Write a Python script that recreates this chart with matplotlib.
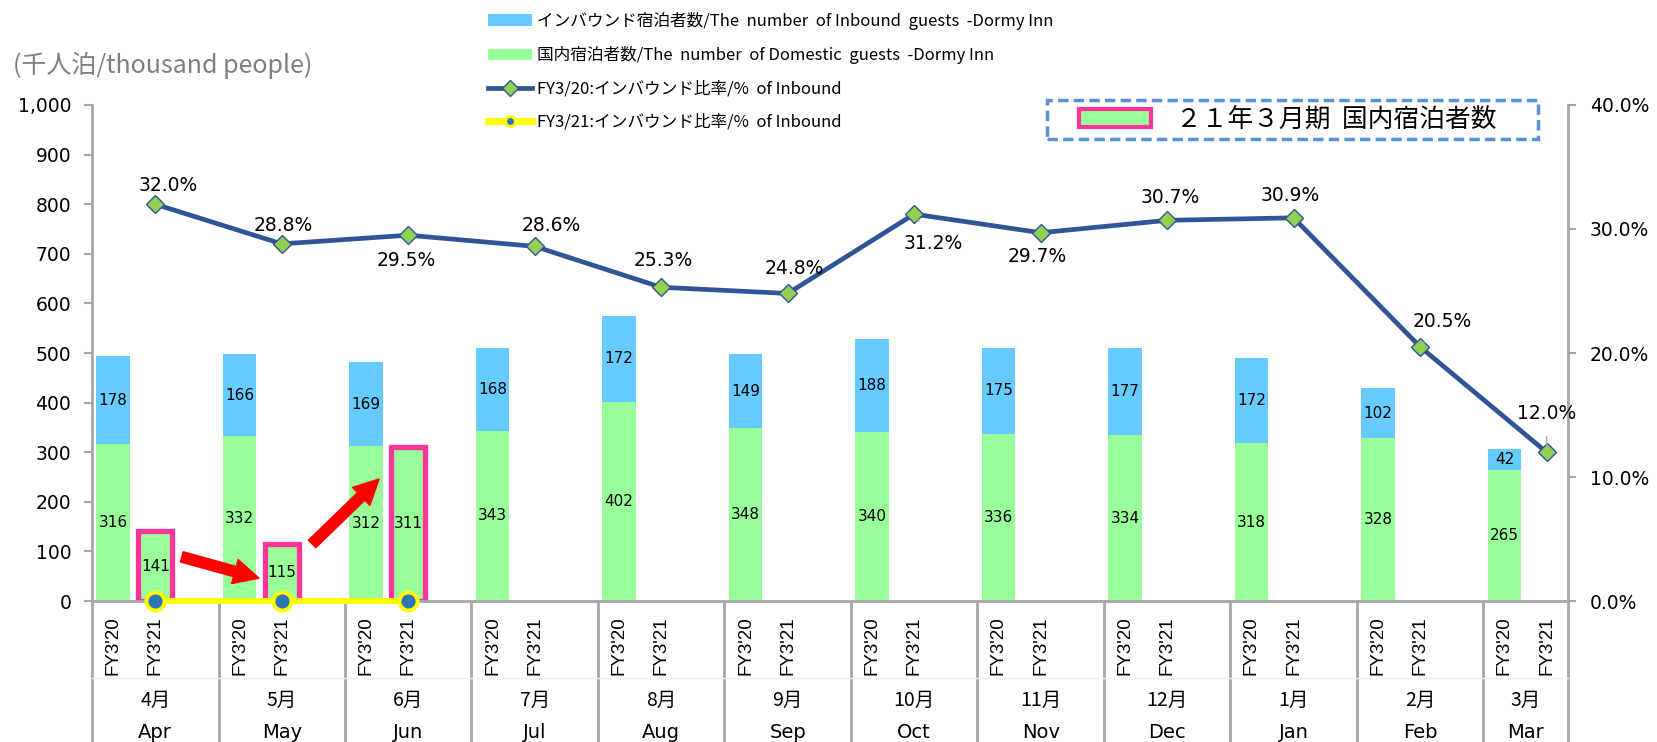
import matplotlib
matplotlib.use('Agg')
import matplotlib.pyplot as plt
import matplotlib.transforms as mtransforms
from matplotlib.patches import Patch, Rectangle
from matplotlib.lines import Line2D

JP = ['Noto Sans CJK JP', 'DejaVu Sans']

months_jp = ['4月', '5月', '6月', '7月', '8月', '9月',
             '10月', '11月', '12月', '1月', '2月', '3月']
months_en = ['Apr', 'May', 'Jun', 'Jul', 'Aug', 'Sep',
             'Oct', 'Nov', 'Dec', 'Jan', 'Feb', 'Mar']
fy_labels = ["FY3'20", "FY3'21"]

dom_fy20 = [316, 332, 312, 343, 402, 348, 340, 336, 334, 318, 328, 265]
inb_fy20 = [178, 166, 169, 168, 172, 149, 188, 175, 177, 172, 102, 42]
dom_fy21 = [141, 115, 311]
ratio_fy20 = [32.0, 28.8, 29.5, 28.6, 25.3, 24.8, 31.2, 29.7, 30.7, 30.9, 20.5, 12.0]
ratio_fy21 = [0.0, 0.0, 0.0]

legend_labels = ['インバウンド宿泊者数/The  number  of Inbound  guests  -Dormy Inn',
                 '国内宿泊者数/The  number  of Domestic  guests  -Dormy Inn',
                 'FY3/20:インバウンド比率/%  of Inbound',
                 'FY3/21:インバウンド比率/%  of Inbound']
box_label = '２１年３月期  国内宿泊者数'
unit_label = '(千人泊/thousand people)'

# label offsets in pixels (dx, dy) for the ratio labels
lbl_off = [(13, 19), (2, 18), (-2, -25), (17, 21), (2, 27), (7, 25),
           (19, -29), (-3, -24), (3, 23), (-3, 22), (22, 25), (0, 39)]
leader = [False] * 6 + [True] + [False] * 3 + [True, True]

C_BLUE = '#66CCFF'
C_GREEN = '#99FF99'
C_LINE = '#2F5597'
C_DIAM = '#92D050'
C_PINK = '#FF3399'
C_GRAY = '#A6A6A6'

n = len(months_en)
x20 = [3 * i for i in range(n)]
x21 = [3 * i + 1 for i in range(n)]

fig = plt.figure(figsize=(16.58, 7.42), dpi=100)
ax = fig.add_axes([0.0555, 0.190, 0.890, 0.6685])
ax2 = ax.twinx()

w = 0.8
ax.bar(x20, dom_fy20, width=w, color=C_GREEN, zorder=2)
ax.bar(x20, inb_fy20, width=w, bottom=dom_fy20, color=C_BLUE, zorder=2)
ax.bar(x21[:len(dom_fy21)], dom_fy21, width=w, color=C_GREEN,
       edgecolor=C_PINK, linewidth=3.8, zorder=2)

for i in range(n):
    ax.text(x20[i], dom_fy20[i] / 2, str(dom_fy20[i]), ha='center', va='center',
            fontsize=11, zorder=3)
    ax.text(x20[i], dom_fy20[i] + inb_fy20[i] / 2, str(inb_fy20[i]), ha='center',
            va='center', fontsize=11, zorder=3)
for i, v in enumerate(dom_fy21):
    ax.text(x21[i], v / 2, str(v), ha='center', va='center',
            fontsize=11, zorder=3)

ax.set_xlim(-0.5, 3 * n - 1.5)
ax.set_ylim(0, 1000)
ax.set_yticks(range(0, 1001, 100))
ax.set_yticklabels([f'{v:,}' for v in range(0, 1001, 100)], fontsize=13.5)

ticks = []
tlabels = []
for i in range(n):
    ticks += [x20[i], x21[i]]
    tlabels += fy_labels
ax.set_xticks(ticks)
ax.set_xticklabels(tlabels, rotation=90, fontsize=13.5, family='Liberation Sans')
ax.tick_params(axis='x', length=0, pad=11)
ax.tick_params(axis='y', direction='out', length=6, color=C_GRAY, width=1.5,
               pad=9)

ax.spines['top'].set_visible(False)
ax2.spines['top'].set_visible(False)
ax.spines['right'].set_visible(False)
ax.spines['left'].set_color(C_GRAY)
ax.spines['bottom'].set_color(C_GRAY)
ax.spines['left'].set_linewidth(2)
ax.spines['bottom'].set_linewidth(2)
ax2.spines['left'].set_visible(False)
ax2.spines['bottom'].set_visible(False)
ax2.spines['right'].set_color(C_GRAY)
ax2.spines['right'].set_linewidth(2)

# category dividers and month labels below the axis
trans = mtransforms.blended_transform_factory(ax.transData, ax.transAxes)
bottom_frac = -0.285
for i in range(n + 1):
    xd = min(3 * i - 0.5, 3 * n - 1.5)
    ax.plot([xd, xd], [0, bottom_frac], transform=trans, color=C_GRAY,
            lw=2, clip_on=False)
ax.plot([-0.5, 3 * n - 1.5], [-0.155, -0.155], transform=trans,
        color='#F0F0F0', lw=1, clip_on=False)
for i in range(n):
    if i == n - 1:
        xc = (3 * i - 0.5 + 3 * n - 1.5) / 2
    else:
        xc = 3 * i + 1
    ax.text(xc, -0.200, months_jp[i], transform=trans, ha='center',
            va='center', fontsize=14, family=JP)
    ax.text(xc, -0.265, months_en[i], transform=trans, ha='center',
            va='center', fontsize=14)

# ratio lines
ax2.set_ylim(0, 40)
ax2.set_yticks(range(0, 41, 10))
ax2.set_yticklabels([f'{v:.1f}%' for v in range(0, 41, 10)], fontsize=13.5)
ax2.tick_params(axis='y', direction='out', length=6, color=C_GRAY, width=1.5,
                pad=10)
ax2.plot(x21, ratio_fy20, color=C_LINE, lw=3.4, marker='D', markersize=9,
         markerfacecolor=C_DIAM, markeredgecolor=C_LINE, markeredgewidth=1,
         zorder=4)
ax2.plot(x21[:len(ratio_fy21)], ratio_fy21, color='#FFFF00', lw=4.2,
         marker='o', markersize=13, markerfacecolor='#2E75B6',
         markeredgecolor='#FFFF00', markeredgewidth=2.8, clip_on=False,
         zorder=5)

for i, v in enumerate(ratio_fy20):
    props = None
    if leader[i]:
        props = dict(arrowstyle='-', color='#A6A6A6', lw=1,
                     shrinkA=8, shrinkB=4)
    ax2.annotate(f'{v:.1f}%', xy=(x21[i], v), xytext=lbl_off[i],
                 textcoords='offset pixels', ha='center', va='center',
                 fontsize=13.5, arrowprops=props, zorder=6)

# red arrows
arrow_style = 'simple,head_length=0.9,head_width=0.9,tail_width=0.38'
ax.annotate('', xy=(x21[1] - 0.54, 46), xytext=(x21[0] + 0.63, 89),
            arrowprops=dict(arrowstyle=arrow_style, color='#FF0000',
                            mutation_scale=20, shrinkA=0, shrinkB=0), zorder=6)
ax.annotate('', xy=(x21[2] - 0.69, 246), xytext=(x21[1] + 0.72, 115),
            arrowprops=dict(arrowstyle=arrow_style, color='#FF0000',
                            mutation_scale=20, shrinkA=0, shrinkB=0), zorder=6)

# legend
handles = [Patch(facecolor=C_BLUE, edgecolor='none'),
           Patch(facecolor=C_GREEN, edgecolor='none'),
           Line2D([], [], color=C_LINE, lw=3.4, marker='D', markersize=8,
                  markerfacecolor=C_DIAM, markeredgecolor=C_LINE),
           Line2D([], [], color='#FFFF00', lw=5, marker='o', markersize=7,
                  markerfacecolor='#2E75B6', markeredgecolor='#FFFF00',
                  markeredgewidth=2)]
fig.legend(handles, legend_labels, loc='upper left',
           bbox_to_anchor=(0.2905, 0.993), frameon=False,
           prop={'family': JP, 'size': 12}, labelspacing=0.98,
           handlelength=2.6, handletextpad=0.3, borderaxespad=0)

fig.text(0.008, 0.912, unit_label, fontsize=18, color='#7F7F7F',
         family=JP, va='center', ha='left')

# highlight box
fig.patches.append(Rectangle((0.6315, 0.8127), 0.296, 0.0526,
                             transform=fig.transFigure, fill=False,
                             edgecolor='#5B8FD6', lw=2.5, linestyle=(0, (3, 1.5))))
fig.patches.append(Rectangle((0.651, 0.829), 0.0434, 0.024,
                             transform=fig.transFigure, facecolor=C_GREEN,
                             edgecolor=C_PINK, lw=3))
fig.text(0.7095, 0.8390, box_label, fontsize=18.5, family=JP,
         va='center', ha='left')

fig.savefig('out.png', dpi=100)
